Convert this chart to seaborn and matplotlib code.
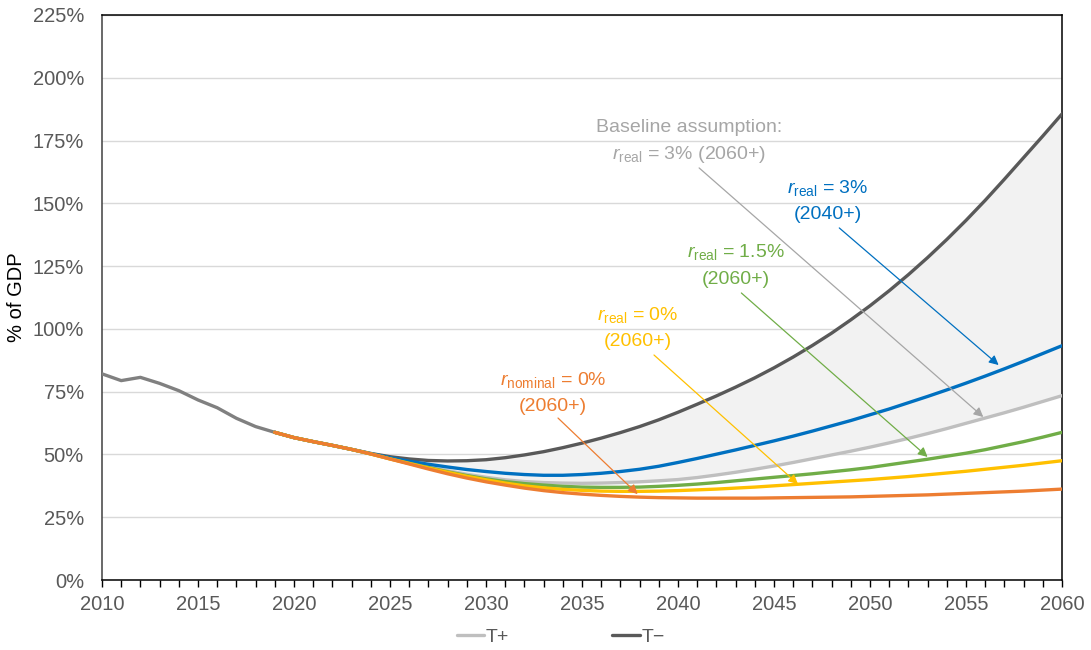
import numpy as np
import pandas as pd
import matplotlib
matplotlib.use("Agg")
import matplotlib.pyplot as plt
import matplotlib.ticker as mticker
import seaborn as sns

# ---------------- data ----------------
hist_years = list(range(2010, 2020))
hist_vals = [82.1, 79.4, 80.7, 78.3, 75.4, 71.7, 68.6, 64.4, 61.1, 58.8]

proj_years = list(range(2019, 2061))
t_minus = [58.8, 56.7, 55.1, 53.6, 52.0, 50.4, 49.1, 48.2, 47.6, 47.4,
           47.5, 47.9, 48.7, 49.8, 51.1, 52.7, 54.5, 56.5, 58.7, 61.1,
           63.8, 66.8, 70.0, 73.3, 76.8, 80.5, 84.5, 88.8, 93.4, 98.3,
           103.6, 109.2, 115.2, 121.6, 128.4, 135.6, 143.2, 151.2, 159.6, 168.2,
           176.8, 185.6]
t_plus = [58.8, 56.7, 55.1, 53.6, 52.0, 50.3, 48.5, 46.7, 45.0, 43.5,
          42.1, 40.9, 39.9, 39.2, 38.8, 38.6, 38.5, 38.6, 38.8, 39.1,
          39.5, 40.0, 40.8, 41.8, 42.9, 44.1, 45.4, 46.8, 48.3, 49.8,
          51.3, 52.9, 54.6, 56.4, 58.3, 60.3, 62.4, 64.5, 66.6, 68.8,
          71.1, 73.4]
r_real_3_2040 = [58.8, 56.7, 55.1, 53.6, 52.0, 50.3, 48.7, 47.3, 46.1, 45.0,
                 44.0, 43.2, 42.5, 42.0, 41.7, 41.7, 42.0, 42.5, 43.2, 44.1,
                 45.3, 46.8, 48.4, 50.1, 51.8, 53.6, 55.4, 57.3, 59.3, 61.4,
                 63.5, 65.8, 68.1, 70.6, 73.1, 75.7, 78.4, 81.2, 84.1, 87.1,
                 90.2, 93.3]
r_real_15 = [58.8, 56.7, 55.1, 53.6, 52.0, 50.2, 48.3, 46.5, 44.8, 43.1,
             41.6, 40.3, 39.2, 38.4, 37.8, 37.3, 37.0, 36.9, 36.9, 37.0,
             37.3, 37.7, 38.2, 38.8, 39.5, 40.2, 40.9, 41.6, 42.3, 43.1,
             43.9, 44.8, 45.9, 47.0, 48.1, 49.3, 50.5, 51.9, 53.5, 55.1,
             56.9, 58.8]
r_real_0 = [58.8, 56.7, 55.1, 53.6, 52.0, 50.2, 48.2, 46.4, 44.6, 42.9,
            41.3, 39.9, 38.6, 37.5, 36.7, 36.1, 35.7, 35.4, 35.3, 35.3,
            35.4, 35.6, 35.9, 36.2, 36.6, 37.0, 37.5, 38.0, 38.5, 39.0,
            39.5, 40.0, 40.6, 41.2, 41.9, 42.6, 43.3, 44.1, 44.9, 45.7,
            46.6, 47.5]
r_nominal_0 = [58.8, 56.7, 55.1, 53.6, 52.0, 50.2, 48.2, 46.2, 44.2, 42.3,
               40.6, 39.1, 37.8, 36.6, 35.6, 34.8, 34.2, 33.7, 33.3, 33.0,
               32.8, 32.7, 32.6, 32.6, 32.6, 32.6, 32.7, 32.8, 32.9, 33.0,
               33.1, 33.3, 33.5, 33.7, 33.9, 34.2, 34.5, 34.8, 35.1, 35.4,
               35.8, 36.2]

legend_labels = ["T+", "T\u2212"]
y_ticks = [0, 25, 50, 75, 100, 125, 150, 175, 200, 225]
x_ticks = [2010, 2015, 2020, 2025, 2030, 2035, 2040, 2045, 2050, 2055, 2060]

# ---------------- style ----------------
sns.set_theme(style="white")
plt.rcParams["font.family"] = ["Liberation Sans", "DejaVu Sans"]
plt.rcParams["mathtext.fontset"] = "custom"
plt.rcParams["mathtext.rm"] = "Liberation Sans"
plt.rcParams["mathtext.it"] = "Liberation Sans:italic"

C_TM = "#595959"
C_TP = "#bfbfbf"
C_HIST = "#808080"
C_BLUE = "#0070C0"
C_GREEN = "#70AD47"
C_YELLOW = "#FFC000"
C_ORANGE = "#ED7D31"
C_BASE = "#a6a6a6"

fig = plt.figure(figsize=(10.91, 6.5), dpi=100)
ax = fig.add_axes([102 / 1091, 1 - 580 / 650, 960 / 1091, 565 / 650])

proj = pd.DataFrame({"year": proj_years, "tm": t_minus, "tp": t_plus,
                     "b": r_real_3_2040, "g": r_real_15, "y": r_real_0,
                     "o": r_nominal_0})

ax.fill_between(proj["year"], proj["tp"], proj["tm"], color="#f2f2f2",
                linewidth=0, zorder=1)

lw = 2.4
sns.lineplot(x=hist_years, y=hist_vals, color=C_HIST, linewidth=lw, ax=ax, zorder=3)
sns.lineplot(data=proj, x="year", y="tm", color=C_TM, linewidth=lw, ax=ax,
             label=legend_labels[1], zorder=3)
sns.lineplot(data=proj, x="year", y="tp", color=C_TP, linewidth=lw, ax=ax,
             label=legend_labels[0], zorder=3)
sns.lineplot(data=proj, x="year", y="b", color=C_BLUE, linewidth=lw, ax=ax, zorder=4)
sns.lineplot(data=proj, x="year", y="g", color=C_GREEN, linewidth=lw, ax=ax, zorder=4)
sns.lineplot(data=proj, x="year", y="y", color=C_YELLOW, linewidth=lw, ax=ax, zorder=4)
sns.lineplot(data=proj, x="year", y="o", color=C_ORANGE, linewidth=lw, ax=ax, zorder=5)

ax.set_xlim(2010, 2060)
ax.set_ylim(0, 225)
ax.set_yticks(y_ticks)
ax.yaxis.set_major_formatter(mticker.FuncFormatter(lambda v, p: f"{v:.0f}%"))
ax.set_xticks(x_ticks)
ax.xaxis.set_minor_locator(mticker.MultipleLocator(1))
ax.tick_params(axis="x", which="both", direction="out", length=5, width=1,
               color="black", bottom=True, labelsize=14.5, labelcolor="#595959", pad=6)
ax.tick_params(axis="y", which="both", length=0, labelsize=14.5,
               labelcolor="#595959", pad=13)
ax.grid(axis="y", color="#d9d9d9", linewidth=1)
ax.grid(axis="x", visible=False)
ax.set_axisbelow(True)
for s in ["top", "right", "bottom", "left"]:
    ax.spines[s].set_visible(True)
    ax.spines[s].set_color("black")
    ax.spines[s].set_linewidth(1.1)
ax.spines["left"].set_color("#404040")
ax.set_xlabel("")
ax.set_ylabel("% of GDP", fontsize=14.5, color="black", labelpad=5)

# legend
h, l = ax.get_legend_handles_labels()
order = [l.index(legend_labels[0]), l.index(legend_labels[1])]
ax.legend([h[i] for i in order], [l[i] for i in order], loc="upper center",
          bbox_to_anchor=(0.5 - 0.022, -0.055), ncol=2, frameon=False,
          fontsize=14, handlelength=1.4, handletextpad=0.1, columnspacing=5.3,
          labelcolor="#595959")

# annotations
fs = 14
def note(lines, color, cx, ys, start, end):
    for txt, yy in zip(lines, ys):
        ax.text(cx, yy, txt, color=color, fontsize=fs, ha="center", va="center", zorder=6)
    ax.annotate("", xy=end, xytext=start,
                arrowprops=dict(arrowstyle="-|>", color=color, lw=0.9,
                                mutation_scale=14, shrinkA=0, shrinkB=0), zorder=6)

note(["Baseline assumption:", r"$r_{\mathrm{real}}$ = 3% (2060+)"], C_BASE,
     2040.6, [180.0, 169.3], (2041.1, 164.1), (2055.9, 64.9))
note([r"$r_{\mathrm{real}}$ = 3%", "(2040+)"], C_BLUE,
     2047.8, [156.1, 145.4], (2048.4, 140.2), (2056.7, 85.6))
note([r"$r_{\mathrm{real}}$ = 1.5%", "(2060+)"], C_GREEN,
     2043.0, [130.6, 119.5], (2043.3, 114.3), (2053.0, 49.0))
note([r"$r_{\mathrm{real}}$ = 0%", "(2060+)"], C_YELLOW,
     2037.9, [105.5, 94.8], (2038.75, 89.6), (2046.25, 38.2))
note([r"$r_{\mathrm{nominal}}$ = 0%", "(2060+)"], C_ORANGE,
     2033.5, [79.6, 68.9], (2033.75, 64.5), (2037.9, 34.2))

fig.savefig("out.png", dpi=100)
